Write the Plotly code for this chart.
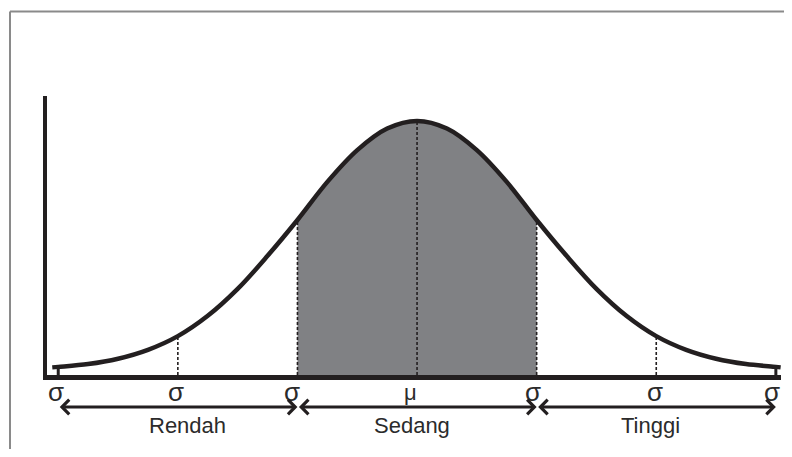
import plotly.graph_objects as go

# ---- data (x in units of sigma, height relative to peak) ----
x_sigma = [-3.05, -3.0, -2.75, -2.5, -2.25, -2.0, -1.75, -1.5, -1.25, -1.0, -0.75, -0.5, -0.25, 0.0,
           0.25, 0.5, 0.75, 1.0, 1.25, 1.5, 1.75, 2.0, 2.25, 2.5, 2.75, 3.0, 3.04]
density = [0.030, 0.032, 0.043, 0.064, 0.099, 0.153, 0.233, 0.339, 0.469, 0.610, 0.760, 0.885, 0.970, 1.000,
           0.970, 0.885, 0.760, 0.610, 0.469, 0.339, 0.233, 0.153, 0.099, 0.064, 0.043, 0.032, 0.030]

tick_pos = [-3, -2, -1, 0, 1, 2, 3]
tick_text = ["σ", "σ", "σ", "μ", "σ", "σ", "σ"]
dotted_pos = [-2, -1, 0, 1, 2]
edge_pos = [-3, 3]

cat_labels = ["Rendah", "Sedang", "Tinggi"]
cat_start = [-3, -1, 1]
cat_end = [-1, 1, 3]

shade_from, shade_to = -1, 1

INK = "#231f20"
TEXT = "#2b2b2b"
GRAY = "#808184"
FONT = "Liberation Sans, Arial, sans-serif"

height_at = dict(zip(x_sigma, density))

fig = go.Figure()

# shaded middle band
sx = [x for x in x_sigma if shade_from <= x <= shade_to]
sy = [height_at[x] for x in sx]
fig.add_trace(go.Scatter(x=sx, y=sy, mode="lines", line=dict(width=0, shape="spline", color=GRAY),
                         fill="tozeroy", fillcolor=GRAY, hoverinfo="skip", showlegend=False))

# dotted verticals
for p in dotted_pos:
    fig.add_trace(go.Scatter(x=[p, p], y=[0, height_at[p]], mode="lines",
                             line=dict(color=INK, width=1.6, dash="3px,2px"),
                             hoverinfo="skip", showlegend=False))
# solid end ticks
for p in edge_pos:
    fig.add_trace(go.Scatter(x=[p, p], y=[0, height_at[p]], mode="lines",
                             line=dict(color=INK, width=3),
                             hoverinfo="skip", showlegend=False))

# the curve
fig.add_trace(go.Scatter(x=x_sigma, y=density, mode="lines",
                         line=dict(color=INK, width=4.5, shape="spline"),
                         hoverinfo="skip", showlegend=False))

annotations = []
label_shift = [-2, -2, -5, -7, -4, -1, -4]
for p, t, s in zip(tick_pos, tick_text, label_shift):
    annotations.append(dict(x=p, y=-0.061, xref="x", yref="paper", text=t, showarrow=False,
                            xshift=s, font=dict(family=FONT, size=26 if t == "σ" else 22, color=TEXT),
                            xanchor="center", yanchor="middle"))

text_shift = [10, -5, -6]
for lab, a, b, s in zip(cat_labels, cat_start, cat_end, text_shift):
    annotations.append(dict(x=b, y=-0.1147, xref="x", yref="paper", ax=a, ay=0,
                            axref="x", ayref="pixel", text="", showarrow=True,
                            arrowhead=4, startarrowhead=4, arrowside="end+start",
                            arrowwidth=2.8, arrowsize=1.0, startarrowsize=1.0,
                            arrowcolor=INK, standoff=0, startstandoff=0))
    annotations.append(dict(x=(a + b) / 2, y=-0.181, xref="x", yref="paper", text=lab,
                            showarrow=False, xshift=s,
                            font=dict(family=FONT, size=22, color=TEXT),
                            xanchor="center", yanchor="middle"))

shapes = [
    dict(type="line", xref="paper", yref="paper", x0=-0.0504, x1=-0.0504, y0=-0.32, y1=1.303,
         line=dict(color="#8a8a8a", width=2)),
    dict(type="line", xref="paper", yref="paper", x0=-0.0504, x1=1.01, y0=1.303, y1=1.303,
         line=dict(color="#8a8a8a", width=2)),
]

# page body has an 8px default margin, so the figure is offset by 8px
fig.update_layout(
    width=776, height=441,
    margin=dict(l=39, r=3, t=88, b=74),
    paper_bgcolor="white", plot_bgcolor="white",
    annotations=annotations, shapes=shapes,
    xaxis=dict(range=[-3.094, 3.043], showgrid=False, zeroline=False, showticklabels=False,
               showline=True, linewidth=5, linecolor=INK, ticks=""),
    yaxis=dict(range=[0, 1.098], showgrid=False, zeroline=False, showticklabels=False,
               showline=True, linewidth=4, linecolor=INK, ticks=""),
    hovermode=False,
)

fig.write_html("out.html")
